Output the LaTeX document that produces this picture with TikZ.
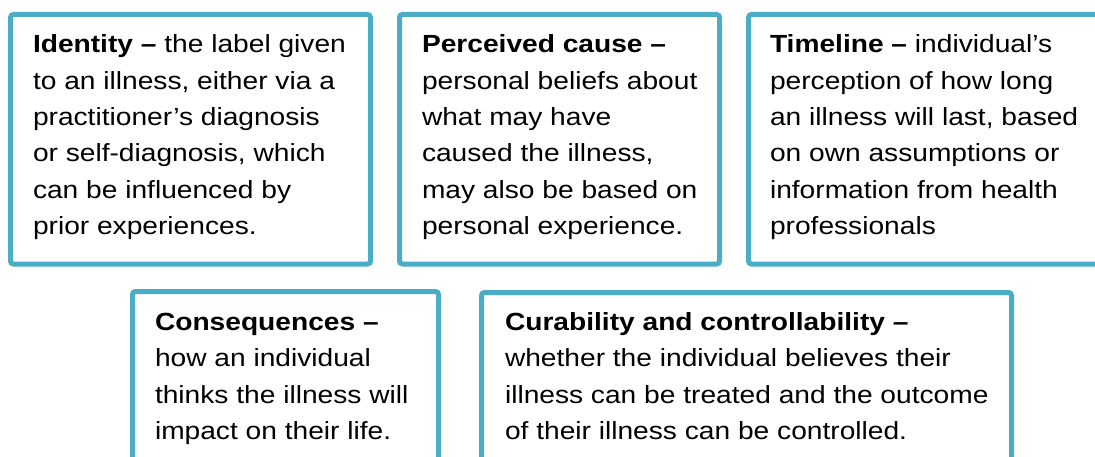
\documentclass[tikz,border=0pt]{standalone}
\usepackage{fontspec}
\setmainfont{Liberation Sans}[FakeStretch=1.135]
\definecolor{cardedge}{HTML}{4BACC6}
\tikzset{
  cardbox/.style={draw=cardedge, line width=5pt, rounded corners=3pt,
    fill=white, anchor=north west, inner sep=0pt, outer sep=0pt},
  cardtext/.style={anchor=base west, inner sep=0pt, outer sep=0pt}
}
% text block whose baseline is the first line's baseline
\newcommand{\cardlines}[2]{\begin{minipage}[t]{#1}\raggedright
  \fontsize{24.8pt}{36.3pt}\selectfont #2\end{minipage}}
\begin{document}
\begin{tikzpicture}[x=1pt,y=-1pt]
\useasboundingbox (0,0) rectangle (1095,457);
\clip (0,0) rectangle (1095,457);
\fill[white] (0,0) rectangle (1095,457);

% upper row of cards
\node[cardbox, minimum width=360pt, minimum height=249.5pt] (idbox) at (10.5,14.5) {};
\node[cardbox, minimum width=320pt, minimum height=249.5pt] (causebox) at (399.5,14.5) {};
\node[cardbox, minimum width=360pt, minimum height=249.5pt] (timebox) at (748.5,14.5) {};

% lower row of cards
\node[cardbox, minimum width=306pt, minimum height=190pt] (consbox) at (132.5,291.5) {};
\node[cardbox, minimum width=530pt, minimum height=190pt] (curebox) at (481.5,292.5) {};

\node[cardtext] (idtext) at (33,53) {\cardlines{340pt}{%
  \textbf{Identity –} the label given\\
  to an illness, either via a\\
  practitioner’s diagnosis\\
  or self-diagnosis, which\\
  can be influenced by\\
  prior experiences.}};

\node[cardtext] (causetext) at (422,53) {\cardlines{300pt}{%
  \textbf{Perceived cause –}\\
  personal beliefs about\\
  what may have\\
  caused the illness,\\
  may also be based on\\
  personal experience.}};

\node[cardtext] (timetext) at (770,53) {\cardlines{330pt}{%
  \textbf{Timeline –} individual’s\\
  perception of how long\\
  an illness will last, based\\
  on own assumptions or\\
  information from health\\
  professionals}};

\node[cardtext] (constext) at (155,330.5) {\cardlines{280pt}{%
  \textbf{Consequences –}\\
  how an individual\\
  thinks the illness will\\
  impact on their life.}};

\node[cardtext] (curetext) at (505,330.5) {\cardlines{500pt}{%
  \textbf{Curability and controllability –}\\
  whether the individual believes their\\
  illness can be treated and the outcome\\
  of their illness can be controlled.}};
\end{tikzpicture}
\end{document}
